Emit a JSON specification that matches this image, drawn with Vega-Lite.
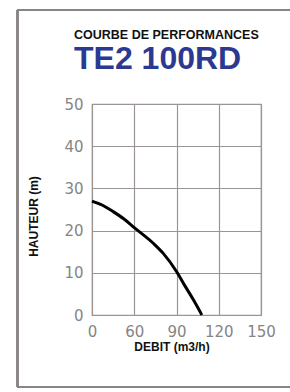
{
  "$schema": "https://vega.github.io/schema/vega-lite/v6.json",
  "width": 169,
  "height": 211,
  "autosize": "none",
  "padding": {"left": 92, "top": 104, "right": 29, "bottom": 77},
  "background": "white",
  "config": {
    "font": "Liberation Sans",
    "view": {"stroke": "#9a9494", "strokeWidth": 1.2}
  },
  "title": {
    "text": "COURBE DE PERFORMANCES",
    "subtitle": "TE2 100RD",
    "anchor": "start",
    "frame": "group",
    "dx": -18,
    "dy": 66,
    "offset": 0,
    "font": "Liberation Sans",
    "fontSize": 12.5,
    "fontWeight": "bold",
    "color": "#111111",
    "subtitleFont": "Liberation Sans",
    "subtitleFontSize": 32,
    "subtitleFontWeight": "bold",
    "subtitleColor": "#2b3990",
    "subtitlePadding": 3
  },
  "data": {
    "values": [
      {"debit": 0, "hauteur": 27},
      {"debit": 15, "hauteur": 26},
      {"debit": 30, "hauteur": 24.5},
      {"debit": 45, "hauteur": 22.8},
      {"debit": 60, "hauteur": 20.7},
      {"debit": 73.5, "hauteur": 17},
      {"debit": 80.6, "hauteur": 14.6},
      {"debit": 90, "hauteur": 10.3},
      {"debit": 96, "hauteur": 6.9},
      {"debit": 102, "hauteur": 3.6},
      {"debit": 108, "hauteur": 0}
    ]
  },
  "layer": [
    {
      "mark": {"type": "line", "color": "#000000", "strokeWidth": 3, "interpolate": "monotone"},
      "encoding": {
        "x": {
          "field": "debit",
          "type": "quantitative",
          "scale": {"type": "linear", "domain": [0, 60, 90, 120, 150], "range": [0, 42.25, 84.5, 126.75, 169], "nice": false, "zero": false},
          "axis": {
            "values": [0, 60, 90, 120, 150],
            "title": "DEBIT (m3/h)",
            "titleFontSize": 12,
            "titleFontWeight": "bold",
            "titleColor": "#111111",
            "titleX": 79.5,
            "titleY": 35,
            "titleAnchor": null,
            "titleAlign": "center",
            "titleBaseline": "alphabetic",
            "labelFont": "DejaVu Sans",
            "labelFontSize": 15,
            "labelColor": "#858585",
            "labelPadding": 9,
            "labelFlush": false,
            "labelAlign": "center",
            "labelOverlap": false,
            "ticks": false,
            "domain": false,
            "grid": true,
            "gridColor": "#9a9494",
            "gridWidth": 1.2,
            "gridOpacity": 1
          }
        },
        "y": {
          "field": "hauteur",
          "type": "quantitative",
          "scale": {"domain": [0, 50], "nice": false, "zero": false},
          "axis": {
            "values": [0, 10, 20, 30, 40, 50],
            "title": "HAUTEUR (m)",
            "titleFontSize": 12,
            "titleFontWeight": "bold",
            "titleColor": "#111111",
            "titleX": -59,
            "titleY": 112,
            "titleAnchor": null,
            "titleAlign": "center",
            "titleBaseline": "middle",
            "labelFont": "DejaVu Sans",
            "labelFontSize": 15,
            "labelColor": "#858585",
            "labelPadding": 9,
            "labelFlush": false,
            "labelBaseline": "middle",
            "labelOverlap": false,
            "ticks": false,
            "domain": false,
            "grid": true,
            "gridColor": "#9a9494",
            "gridWidth": 1.2,
            "gridOpacity": 1
          }
        }
      }
    },
    {
      "mark": {"type": "rule", "color": "#8a8484", "strokeWidth": 1.5},
      "encoding": {
        "x": {"datum": -105.8, "type": "quantitative"},
        "y": {"datum": -17.06, "type": "quantitative"},
        "y2": {"datum": 72.27}
      }
    },
    {
      "mark": {"type": "rule", "color": "#8a8484", "strokeWidth": 1.5},
      "encoding": {
        "x": {"datum": -105.8, "type": "quantitative"},
        "x2": {"datum": 220},
        "y": {"datum": 72.27, "type": "quantitative"}
      }
    },
    {
      "mark": {"type": "rule", "color": "#8a8484", "strokeWidth": 1.5},
      "encoding": {
        "x": {"datum": -105.8, "type": "quantitative"},
        "x2": {"datum": 220},
        "y": {"datum": -17.06, "type": "quantitative"}
      }
    }
  ]
}
